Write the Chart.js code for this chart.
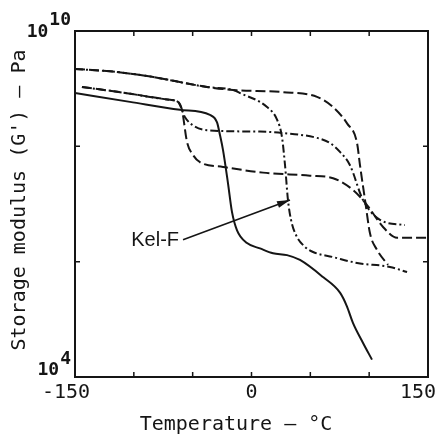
<!DOCTYPE html>
<html>
<head>
<meta charset="utf-8">
<script src="https://cdn.jsdelivr.net/npm/chart.js@4.4.1/dist/chart.umd.min.js"></script>
<style>
html,body{margin:0;padding:0;background:#fff;}
canvas{display:block;}
</style>
</head>
<body>
<canvas id="c" width="447" height="440"></canvas>
<script>
// ---- tick values and labels ----
const tempTicks = [-150, -100, -50, 0, 50, 100, 150];
const tempTickLabels = ['-150', '', '', '0', '', '', '150'];
const modTicks = [1e4, 1e6, 1e8, 1e10];
const modTickBase = ['10', '', '', '10'];
const modTickExp = ['4', '', '', '10'];
const xTitle = 'Temperature — °C';
const yTitle = "Storage modulus (G') — Pa";
const kelfLabel = 'Kel-F';

// ---- series (temperature °C, storage modulus Pa) ----
const solidT = [-150, -103.3, -60.8, -35.3, -29.3, -26.8, -24.2, -20.0, -16.6, -12.3, -3.8, 7.2, 18.3, 30.2, 41.2, 60.8, 75.2, 81.0, 86.3, 94.8, 102.4];
const solidG = [8.4e8, 5.9e8, 4.3e8, 3.5e8, 2.6e8, 1.57e8, 8.6e7, 2.3e7, 7.3e6, 3.5e6, 2.1e6, 1.7e6, 1.4e6, 1.3e6, 1.07e6, 5.4e5, 2.9e5, 1.7e5, 8.6e4, 3.9e4, 2.0e4];

const midT = [-144.1, -111.8, -69.3, -62.5, -56.5, -49.7, -37.8, 7.2, 26.8, 55.7, 66.7, 75.2, 83.7, 94.8, 109.2, 130.4];
const midG = [1.07e9, 8.7e8, 6.4e8, 5.9e8, 3.2e8, 2.3e8, 1.9e8, 1.8e8, 1.7e8, 1.4e8, 1.14e8, 8.0e7, 4.7e7, 1.17e7, 5.3e6, 4.3e6];

const lowT = [-144.1, -111.8, -69.3, -62.5, -59.1, -54.8, -49.7, -43.8, -24.2, 9.8, 49.7, 69.3, 86.3, 98.2, 111.8, 123.7, 150];
const lowG = [1.07e9, 8.7e8, 6.4e8, 5.9e8, 4.3e8, 1.19e8, 7.1e7, 5.3e7, 4.4e7, 3.5e7, 3.1e7, 2.8e7, 1.75e7, 9.6e6, 4.0e6, 2.6e6, 2.6e6];

const kelfT = [-150, -120.3, -88.8, -37.8, -15.7, -9.8, 13.2, 21.7, 25.9, 28.5, 31.0, 33.6, 37.8, 45.5, 52.3, 69.3, 89.7, 117.7, 132.2];
const kelfG = [2.19e9, 2.0e9, 1.66e9, 1.07e9, 9.5e8, 8.4e8, 4.8e8, 2.9e8, 1.45e8, 4.7e7, 1.17e7, 5.3e6, 2.9e6, 1.8e6, 1.47e6, 1.2e6, 9.5e5, 8.1e5, 6.6e5];

const highT = [-150, -120.3, -88.8, -37.8, -15.7, 26.8, 55.7, 69.3, 81.2, 89.7, 92.2, 96.5, 100.7, 106.7, 116.0];
const highG = [2.19e9, 2.0e9, 1.66e9, 1.07e9, 9.5e8, 8.7e8, 7.2e8, 4.8e8, 2.5e8, 1.14e8, 4.7e7, 1.17e7, 3.1e6, 1.6e6, 8.8e5];

// arrow from label to Kel-F curve (data coordinates)
const kelfArrowFrom = [-58.2, 2.4e6];
const kelfArrowTo = [32.7, 1.17e7];

const pts = (t, g) => t.map((v, i) => ({x: v, y: g[i]}));
const INK = '#151515';
const DASHDOT = [8, 3, 2, 3];
const LONGDASH = [10, 4];

function mkSet(t, g, dash) {
  return {
    data: pts(t, g), borderColor: INK, borderWidth: 2, borderDash: dash,
    pointRadius: 0, fill: false, cubicInterpolationMode: 'monotone'
  };
}

const decor = {
  id: 'decor',
  afterDraw(chart) {
    const {ctx, chartArea: a, scales: {x, y}} = chart;
    ctx.save();
    // frame
    ctx.strokeStyle = INK;
    ctx.lineWidth = 2;
    ctx.setLineDash([]);
    ctx.strokeRect(a.left, a.top, a.right - a.left, a.bottom - a.top);
    // inward ticks
    ctx.lineWidth = 1.5;
    x.ticks.forEach(tk => {
      if (tk.value <= x.min || tk.value >= x.max) return;
      const px = x.getPixelForValue(tk.value);
      ctx.beginPath();
      ctx.moveTo(px, a.bottom); ctx.lineTo(px, a.bottom - 5);
      ctx.moveTo(px, a.top); ctx.lineTo(px, a.top + 5);
      ctx.stroke();
    });
    y.ticks.forEach(tk => {
      if (tk.value <= y.min || tk.value >= y.max) return;
      const py = y.getPixelForValue(tk.value);
      ctx.beginPath();
      ctx.moveTo(a.left, py); ctx.lineTo(a.left + 5, py);
      ctx.moveTo(a.right, py); ctx.lineTo(a.right - 5, py);
      ctx.stroke();
    });
    // x tick labels
    ctx.fillStyle = INK;
    ctx.font = '20px "DejaVu Sans Mono"';
    ctx.textAlign = 'center';
    ctx.textBaseline = 'middle';
    tempTicks.forEach((v, i) => {
      const lab = tempTickLabels[i];
      if (!lab) return;
      const dx = v === x.min ? -9 : (v === x.max ? -10 : 0);
      ctx.fillText(lab, x.getPixelForValue(v) + dx, a.bottom + 16);
    });
    // y tick labels with superscripts
    ctx.font = 'bold 18px "DejaVu Sans Mono"';
    ctx.textAlign = 'right';
    modTicks.forEach((v, i) => {
      if (!modTickBase[i]) return;
      const py = y.getPixelForValue(v);
      const atTop = v === y.max;
      const supY = atTop ? py - 11 : py - 18;
      const baseY = atTop ? py + 1 : py - 7;
      const supRight = a.left - 4;
      ctx.fillText(modTickExp[i], supRight, supY);
      const w = ctx.measureText(modTickExp[i]).width;
      ctx.fillText(modTickBase[i], supRight - w - 1, baseY);
    });
    // axis titles
    ctx.font = '20px "DejaVu Sans Mono"';
    ctx.textAlign = 'center';
    ctx.fillText(xTitle, 236, 425);
    ctx.save();
    ctx.translate(20, 200);
    ctx.rotate(-Math.PI / 2);
    ctx.fillText(yTitle, 0, 0);
    ctx.restore();
    // Kel-F label and arrow
    const fx = x.getPixelForValue(kelfArrowFrom[0]), fy = y.getPixelForValue(kelfArrowFrom[1]);
    const tx = x.getPixelForValue(kelfArrowTo[0]), ty = y.getPixelForValue(kelfArrowTo[1]);
    ctx.font = '20px "Liberation Sans"';
    ctx.textAlign = 'right';
    ctx.fillText(kelfLabel, fx - 4, fy + 1);
    ctx.lineWidth = 1.6;
    ctx.beginPath();
    ctx.moveTo(fx, fy); ctx.lineTo(tx, ty); ctx.stroke();
    const ang = Math.atan2(ty - fy, tx - fx);
    ctx.beginPath();
    ctx.moveTo(tx, ty);
    ctx.lineTo(tx - 13 * Math.cos(ang) + 3.5 * Math.sin(ang), ty - 13 * Math.sin(ang) - 3.5 * Math.cos(ang));
    ctx.lineTo(tx - 13 * Math.cos(ang) - 3.5 * Math.sin(ang), ty - 13 * Math.sin(ang) + 3.5 * Math.cos(ang));
    ctx.closePath();
    ctx.fill();
    ctx.restore();
  }
};

new Chart(document.getElementById('c'), {
  type: 'line',
  data: {
    datasets: [
      mkSet(solidT, solidG, []),
      mkSet(midT, midG, DASHDOT),
      mkSet(lowT, lowG, LONGDASH),
      mkSet(kelfT, kelfG, DASHDOT),
      mkSet(highT, highG, LONGDASH)
    ]
  },
  options: {
    responsive: false,
    animation: false,
    devicePixelRatio: 1,
    layout: {padding: {left: 0, top: 31, right: 19, bottom: 0}},
    plugins: {legend: {display: false}, tooltip: {enabled: false}},
    scales: {
      x: {
        type: 'linear', min: -150, max: 150,
        grid: {display: false}, border: {display: false},
        ticks: {display: false},
        afterBuildTicks: s => { s.ticks = tempTicks.map(v => ({value: v})); },
        afterFit: s => { s.height = 63; }
      },
      y: {
        type: 'logarithmic', min: 1e4, max: 1e10,
        grid: {display: false}, border: {display: false},
        ticks: {display: false},
        afterBuildTicks: s => { s.ticks = modTicks.map(v => ({value: v})); },
        afterFit: s => { s.width = 75; }
      }
    }
  },
  plugins: [decor]
});
</script>
</body>
</html>
